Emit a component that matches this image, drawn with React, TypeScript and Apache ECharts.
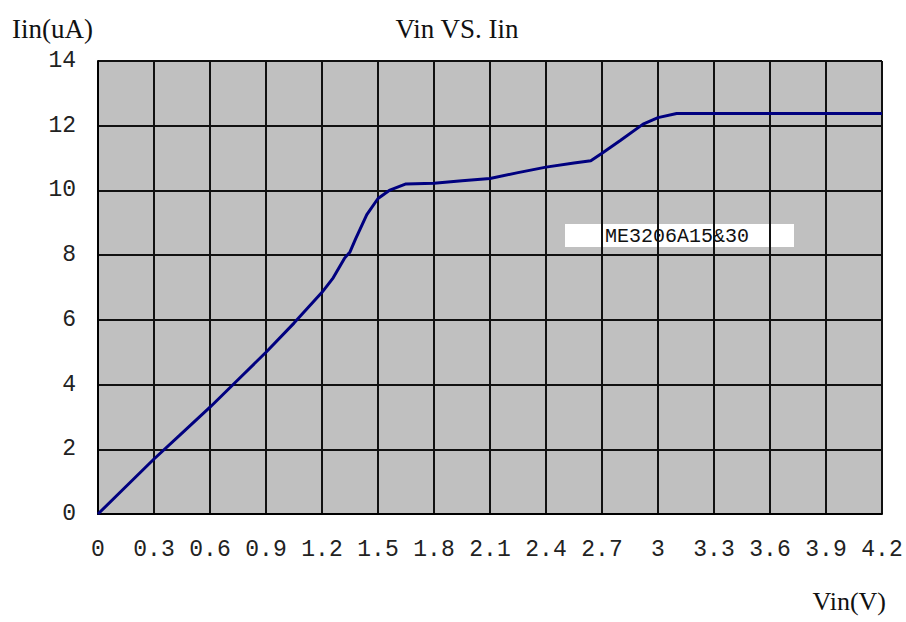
import React, { useEffect, useRef } from "react";
import * as echarts from "echarts";

const vin: number[] = [0, 0.15, 0.3, 0.45, 0.6, 0.75, 0.9, 1.05, 1.2, 1.26, 1.32, 1.35, 1.38, 1.44, 1.5, 1.56, 1.65, 1.8, 1.95, 2.1, 2.25, 2.4, 2.55, 2.64, 2.7, 2.8, 2.92, 3.0, 3.1, 3.5, 4.2];
const iin: number[] = [0, 0.85, 1.7, 2.5, 3.3, 4.15, 5.0, 5.9, 6.85, 7.3, 7.9, 8.1, 8.5, 9.25, 9.75, 10.0, 10.2, 10.22, 10.3, 10.37, 10.55, 10.72, 10.85, 10.92, 11.15, 11.55, 12.05, 12.25, 12.38, 12.38, 12.38];
const seriesName = "ME3206A15&30";
const title = "Vin VS. Iin";
const xName = "Vin(V)";
const yName = "Iin(uA)";

export default function App() {
  const ref = useRef<HTMLDivElement>(null);
  useEffect(() => {
    const chart = echarts.init(ref.current!, null, { renderer: "svg" });
    chart.setOption({
      animation: false,
      backgroundColor: "#ffffff",
      grid: {
        left: 98, top: 61, right: 24, bottom: 108,
        show: true, backgroundColor: "#c0c0c0", borderWidth: 0,
        containLabel: false, outerBoundsMode: "none",
      },
      xAxis: {
        type: "value",
        min: 0,
        max: 4.2,
        interval: 0.3,
        axisLine: { show: true, lineStyle: { color: "#000", width: 2 } },
        axisTick: { show: false },
        splitLine: { show: true, lineStyle: { color: "#111", width: 2 } },
        axisLabel: {
          margin: 24,
          fontFamily: "Liberation Mono",
          fontSize: 23,
          color: "#222",
          formatter: (v: number) => String(Number(v.toFixed(1))),
        },
      },
      yAxis: {
        type: "value",
        min: 0,
        max: 14,
        interval: 2,
        axisLine: { show: true, lineStyle: { color: "#000", width: 2 } },
        axisTick: { show: false },
        splitLine: { show: true, lineStyle: { color: "#111", width: 2 } },
        axisLabel: {
          margin: 22,
          fontFamily: "Liberation Mono",
          fontSize: 23,
          color: "#222",
        },
      },
      series: [
        {
          name: seriesName,
          type: "line",
          data: vin.map((v, i) => [v, iin[i]]),
          showSymbol: false,
          lineStyle: { color: "#00007f", width: 3 },
        },
      ],
      graphic: [
        { type: "text", x: 457, y: 29, style: { text: title, font: "27px 'Liberation Serif'", fill: "#111", align: "center", verticalAlign: "middle" } },
        { type: "text", x: 12, y: 29, style: { text: yName, font: "27px 'Liberation Serif'", fill: "#111", align: "left", verticalAlign: "middle" } },
        { type: "text", x: 886, y: 601, style: { text: xName, font: "26px 'Liberation Serif'", fill: "#111", align: "right", verticalAlign: "middle" } },
        { type: "rect", shape: { x: 565, y: 224, width: 229, height: 23 }, style: { fill: "#ffffff" } },
        { type: "text", x: 677, y: 236, style: { text: seriesName, font: "20px 'Liberation Mono'", fill: "#111", align: "center", verticalAlign: "middle" } },
      ],
    });
    return () => chart.dispose();
  }, []);
  return <div ref={ref} style={{ position: "fixed", left: 0, top: 0, width: 906, height: 622 }} />;
}
